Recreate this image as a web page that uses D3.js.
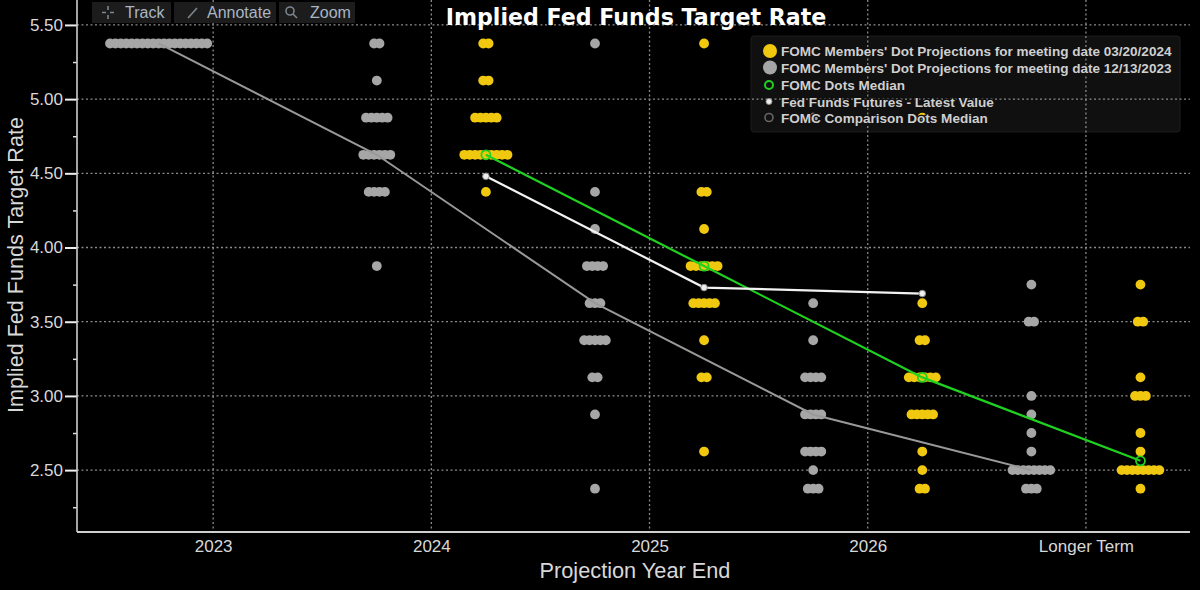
<!DOCTYPE html>
<html><head><meta charset="utf-8">
<script src="https://cdn.jsdelivr.net/npm/d3@7"></script>
<style>html,body{margin:0;padding:0;background:#000;} svg{display:block;}</style>
</head><body>
<svg id="c" width="1200" height="590"></svg>
<script>
// ---------- DATA ----------
const categories = ["2023", "2024", "2025", "2026", "Longer Term"];
const yTicks = [5.5, 5.0, 4.5, 4.0, 3.5, 3.0, 2.5];
const yMinorTicks = [5.25, 4.75, 4.25, 3.75, 3.25, 2.75, 2.25];
// [rate, number of participants] per category
const dotsMar2024 = [
  [],
  [[5.375,2],[5.125,2],[4.875,5],[4.625,9],[4.375,1]],
  [[5.375,1],[4.375,2],[4.125,1],[3.875,6],[3.625,5],[3.375,1],[3.125,2],[2.625,1]],
  [[4.875,1],[3.625,1],[3.375,2],[3.125,6],[2.875,5],[2.625,1],[2.5,1],[2.375,2]],
  [[3.75,1],[3.5,2],[3.125,1],[3.0,3],[2.75,1],[2.625,1],[2.5,8],[2.375,1]]
];
const dotsDec2023 = [
  [[5.375,19]],
  [[5.375,2],[5.125,1],[4.875,5],[4.625,6],[4.375,4],[3.875,1]],
  [[5.375,1],[4.375,1],[4.125,1],[3.875,4],[3.625,3],[3.375,5],[3.125,2],[2.875,1],[2.375,1]],
  [[4.875,1],[3.625,1],[3.375,1],[3.125,4],[2.875,4],[2.625,4],[2.5,1],[2.375,3]],
  [[3.75,1],[3.5,2],[3.0,1],[2.875,1],[2.75,1],[2.625,1],[2.5,8],[2.375,3]]
];
const medianMar2024 = [null, 4.625, 3.875, 3.125, 2.5625];
const medianDec2023 = [5.375, 4.625, 3.625, 2.875, 2.5];
const futuresLatest = [null, 4.48, 3.73, 3.69, null];
const legendLabels = [
  "FOMC Members' Dot Projections for meeting date 03/20/2024",
  "FOMC Members' Dot Projections for meeting date 12/13/2023",
  "FOMC Dots Median",
  "Fed Funds Futures - Latest Value",
  "FOMC Comparison Dots Median"
];
const toolbarLabels = ["Track", "Annotate", "Zoom"];

// ---------- LAYOUT ----------
const W = 1200, H = 590;
const pL = 77, pR = 1190, pB = 532, pT = 0;
const svg = d3.select("#c");
const x = d3.scaleLinear().domain([-0.624, 4.477]).range([pL, pR]);
const y = d3.scaleLinear().domain([2.083, 5.668]).range([pB, pT]);
const offDec = -0.25, offMar = 0.25;
const dotR = 4.9, dotStep = 5.4;
const YELLOW = "#f0c80f", GRAY = "#a6a6a6", GREEN = "#1fd21f";
const NARROW = "'Liberation Sans Narrow', 'Liberation Sans', Arial, sans-serif";

function fit(sel, w) {
  const L = sel.node().getComputedTextLength();
  const fs = parseFloat(sel.attr("font-size"));
  sel.attr("font-size", fs * w / L);
}

svg.append("rect").attr("width", W).attr("height", H).attr("fill", "#000");

// legend background (behind the plot marks)
const lg = { x: 751, y: 36, w: 429, h: 96 };
svg.append("rect").attr("x", lg.x).attr("y", lg.y).attr("width", lg.w).attr("height", lg.h)
  .attr("rx", 3).attr("fill", "#101010").attr("stroke", "#1d1d1d");

// ---------- GRID ----------
const grid = svg.append("g").attr("stroke", "#8a8a8a").attr("stroke-width", 1.3)
  .attr("stroke-dasharray", "2,2.5");
grid.selectAll("line.h").data(yTicks).join("line").attr("class", "h")
  .attr("x1", pL).attr("x2", pR).attr("y1", d => y(d)).attr("y2", d => y(d));
grid.selectAll("line.v").data(d3.range(categories.length)).join("line").attr("class", "v")
  .attr("y1", pT).attr("y2", pB).attr("x1", d => x(d)).attr("x2", d => x(d));

// ---------- DOTS ----------
function expand(data, off) {
  const out = [];
  data.forEach((levels, i) => levels.forEach(([rate, n]) => {
    for (let k = 0; k < n; k++) out.push({ cx: x(i + off) + (k - (n - 1) / 2) * dotStep, rate });
  }));
  return out;
}
svg.append("g").selectAll("circle").data(expand(dotsDec2023, offDec)).join("circle")
  .attr("cx", d => d.cx).attr("cy", d => y(d.rate)).attr("r", dotR).attr("fill", GRAY);
svg.append("g").selectAll("circle").data(expand(dotsMar2024, offMar)).join("circle")
  .attr("cx", d => d.cx).attr("cy", d => y(d.rate)).attr("r", dotR).attr("fill", YELLOW);

// ---------- LINES ----------
function pts(arr, off) {
  return arr.map((v, i) => v == null ? null : [x(i + off), y(v)]).filter(p => p);
}
const line = d3.line();
svg.append("path").attr("d", line(pts(medianDec2023, offDec))).attr("fill", "none")
  .attr("stroke", "#999").attr("stroke-width", 2);
svg.append("path").attr("d", line(pts(medianMar2024, offMar))).attr("fill", "none")
  .attr("stroke", GREEN).attr("stroke-width", 2.2);
svg.append("path").attr("d", line(pts(futuresLatest, offMar))).attr("fill", "none")
  .attr("stroke", "#f2f2f2").attr("stroke-width", 2.2);
svg.append("g").selectAll("circle").data(pts(medianMar2024, offMar)).join("circle")
  .attr("cx", d => d[0]).attr("cy", d => d[1]).attr("r", 4.5)
  .attr("fill", "none").attr("stroke", GREEN).attr("stroke-width", 1.8);
svg.append("g").selectAll("circle").data(pts(futuresLatest, offMar)).join("circle")
  .attr("cx", d => d[0]).attr("cy", d => d[1]).attr("r", 3.3)
  .attr("fill", "#eee").attr("stroke", "#888").attr("stroke-width", 1);

// ---------- AXES ----------
const yAx = svg.append("g").attr("transform", `translate(${pL},0)`)
  .call(d3.axisLeft(y).tickValues(yTicks).tickFormat(d3.format(".2f")).tickSize(12).tickPadding(2));
yAx.select(".domain").remove();
yAx.selectAll(".tick line").attr("stroke", "#eee").attr("stroke-width", 2);
yAx.selectAll(".tick text").attr("fill", "#d8d8d8").attr("font-family", NARROW).attr("font-size", 17);
const yMin = svg.append("g").attr("transform", `translate(${pL},0)`)
  .call(d3.axisLeft(y).tickValues(yMinorTicks).tickFormat("").tickSize(4));
yMin.select(".domain").remove();
yMin.selectAll(".tick line").attr("stroke", "#ddd").attr("stroke-width", 1.5);

svg.append("line").attr("x1", pL).attr("x2", pL).attr("y1", pT).attr("y2", pB)
  .attr("stroke", "#cfcfcf").attr("stroke-width", 1.6);

const xAx = svg.append("g").attr("transform", `translate(0,${pB})`)
  .call(d3.axisBottom(x).tickValues(d3.range(categories.length)).tickFormat(i => categories[i]).tickSize(0).tickPadding(8));
xAx.select(".domain").remove();
xAx.selectAll(".tick text").attr("fill", "#d8d8d8").attr("font-family", NARROW).attr("font-size", 17);
svg.append("line").attr("x1", pL).attr("x2", pR).attr("y1", pB).attr("y2", pB)
  .attr("stroke", "#d0d0d0").attr("stroke-width", 2);

// axis titles
const xt = svg.append("text").attr("x", 635).attr("y", 578).attr("text-anchor", "middle")
  .attr("fill", "#d8d8d8").attr("font-family", NARROW).attr("font-size", 24).text("Projection Year End");
fit(xt, 191);
const yt = svg.append("text").attr("transform", "translate(23,265) rotate(-90)").attr("text-anchor", "middle")
  .attr("fill", "#d8d8d8").attr("font-family", NARROW).attr("font-size", 24).text("Implied Fed Funds Target Rate");
fit(yt, 296);

// title
const tt = svg.append("text").attr("x", 636).attr("y", 25).attr("text-anchor", "middle")
  .attr("fill", "#fff").attr("font-family", "'DejaVu Sans', sans-serif").attr("font-weight", "bold")
  .attr("font-size", 20).text("Implied Fed Funds Target Rate");
fit(tt, 381);

// ---------- TOOLBAR ----------
const tb = [{ x: 92, w: 79, tx: 125 }, { x: 174, w: 102, tx: 207 }, { x: 279, w: 76, tx: 310 }];
const tbg = svg.append("g");
tbg.selectAll("rect").data(tb).join("rect").attr("x", d => d.x).attr("y", 2).attr("width", d => d.w)
  .attr("height", 21).attr("fill", "#1c1c1c");
tbg.selectAll("text").data(tb).join("text").attr("x", d => d.tx).attr("y", 18)
  .attr("fill", "#a9b6c4").attr("font-family", "'Liberation Sans', Arial, sans-serif").attr("font-size", 16)
  .text((d, i) => toolbarLabels[i]);
const ic = tbg.append("g").attr("stroke", "#7d8590").attr("stroke-width", 1.6).attr("fill", "none");
ic.append("path").attr("d", "M108,6V10M108,15V19M102,12.5H106M110,12.5H114");
ic.append("path").attr("d", "M188,18L197,8");
ic.append("circle").attr("cx", 290).attr("cy", 11).attr("r", 4);
ic.append("path").attr("d", "M293,14L297,18");

// ---------- LEGEND ----------
const rowsY = [51, 67.5, 85, 101.5, 117.5];
const lgg = svg.append("g");
lgg.append("circle").attr("cx", 770).attr("cy", rowsY[0]).attr("r", 7).attr("fill", YELLOW);
lgg.append("circle").attr("cx", 770).attr("cy", rowsY[1]).attr("r", 7).attr("fill", GRAY);
lgg.append("circle").attr("cx", 769).attr("cy", rowsY[2]).attr("r", 4).attr("fill", "none").attr("stroke", GREEN).attr("stroke-width", 2);
lgg.append("circle").attr("cx", 769).attr("cy", rowsY[3]).attr("r", 3).attr("fill", "#eee").attr("stroke", "#888");
lgg.append("circle").attr("cx", 769).attr("cy", rowsY[4]).attr("r", 4).attr("fill", "none").attr("stroke", "#666").attr("stroke-width", 1.6);
const lt = lgg.selectAll("text").data(legendLabels).join("text")
  .attr("x", 781).attr("y", (d, i) => rowsY[i] + 5)
  .attr("fill", "#cfcfcf").attr("font-family", NARROW).attr("font-weight", "bold")
  .attr("font-size", 14).attr("stroke", "#101010").attr("stroke-width", 2.5).attr("paint-order", "stroke")
  .text(d => d);
const L0 = lt.nodes()[0].getComputedTextLength();
lt.attr("font-size", 14 * 391 / L0);
</script>
</body></html>
